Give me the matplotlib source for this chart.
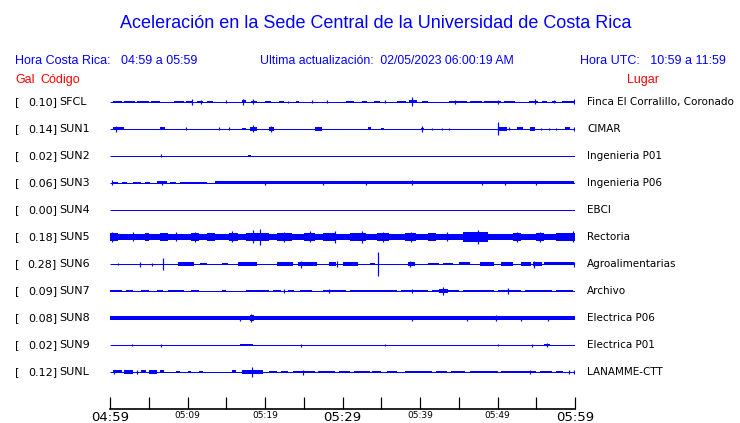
import matplotlib
matplotlib.use('Agg')
import matplotlib.pyplot as plt

W, H = 740, 423

codes = ['SFCL', 'SUN1', 'SUN2', 'SUN3', 'SUN4', 'SUN5',
         'SUN6', 'SUN7', 'SUN8', 'SUN9', 'SUNL']
gal = [0.10, 0.14, 0.02, 0.06, 0.00, 0.18, 0.28, 0.09, 0.08, 0.02, 0.12]
places = ['Finca El Corralillo, Coronado', 'CIMAR', 'Ingenieria P01',
          'Ingenieria P06', 'EBCI', 'Rectoria', 'Agroalimentarias',
          'Archivo', 'Electrica P06', 'Electrica P01', 'LANAMME-CTT']

# half-amplitude of the continuous band (px)
base_amp = [0, 0, 0, 0, 0, 2.8, 0, 0, 1.7, 0, 0]

# bursts (start min, end min, half-amplitude) and spikes (min, half-amplitude)
sfcl_segs = [(0.4, 1.5, 1.3), (1.8, 3.2, 1.3), (3.5, 5.0, 1.3), (5.3, 6.5, 1.2),
             (8.2, 9.5, 1.2), (9.8, 10.7, 1.3), (11.2, 12.0, 1.2), (12.5, 13.3, 1.1),
             (17.0, 17.6, 1.5), (18.2, 19.0, 1.3), (20.0, 20.8, 1.0), (21.8, 22.4, 1.2),
             (24.0, 24.4, 1.0), (30.5, 31.5, 1.0), (32.5, 33.2, 1.1), (34.0, 34.8, 1.1),
             (37.0, 38.2, 1.3), (38.6, 39.6, 1.5), (40.3, 41.0, 1.0), (43.8, 46.0, 1.3),
             (46.5, 48.0, 1.2), (48.2, 50.5, 1.2), (50.8, 52.3, 1.2), (54.0, 55.2, 1.1),
             (55.8, 56.4, 1.0), (57.0, 57.6, 1.0), (58.3, 59.9, 1.1)]
sfcl_spikes = [(10.6, 3.0), (11.8, 1.8), (15.0, 1.5), (17.2, 2.8), (18.4, 2.5),
               (23.0, 1.4), (26.0, 1.5), (28.0, 1.5), (35.5, 1.5), (39.0, 4.5),
               (44.5, 1.8), (50.0, 1.6), (54.8, 2.5), (57.3, 1.5), (59.9, 2.5)]

sun1_segs = [(0.4, 1.8, 1.5), (6.5, 7.1, 1.5), (17.0, 17.6, 1.2), (18.0, 19.0, 2.0),
             (20.5, 21.1, 2.0), (26.5, 27.3, 1.6), (33.3, 33.7, 1.5), (35.0, 35.4, 1.1),
             (40.1, 40.5, 1.2), (50.0, 51.2, 1.9), (52.5, 53.3, 1.5), (54.2, 54.9, 1.6),
             (58.7, 59.4, 1.5)]
sun1_spikes = [(0.8, 3.0), (9.8, 1.5), (14.0, 1.5), (15.3, 1.5), (18.4, 3.5),
               (20.8, 3.0), (40.3, 3.0), (41.6, 1.2), (42.8, 1.2), (43.8, 1.2),
               (50.1, 6.5), (51.5, 1.5), (55.6, 1.2), (56.6, 1.2), (57.5, 1.2), (59.9, 2.0)]

sun2_segs = [(17.8, 18.2, 1.3)]
sun2_spikes = [(6.6, 1.5)]

sun3_segs = [(0.2, 1.0, 1.4), (1.5, 2.2, 1.1), (3.0, 4.0, 1.3), (4.5, 5.2, 1.3),
             (6.0, 7.3, 1.5), (7.8, 8.5, 1.1), (9.0, 12.5, 1.3), (13.6, 59.9, 1.5)]
sun3_spikes = [(0.3, 2.5), (6.7, 2.3), (20.0, 1.8), (27.5, 2.2), (33.0, 1.8),
               (39.0, 2.5), (48.0, 2.2), (51.0, 1.8), (55.0, 1.8)]

sun4_segs = []
sun4_spikes = []

sun5_segs = [(0.0, 1.0, 4.0), (4.5, 5.0, 3.6), (6.5, 7.5, 3.6), (10.5, 11.5, 4.0),
             (12.5, 13.5, 3.6), (15.3, 16.5, 4.2), (17.5, 20.5, 4.2), (21.5, 23.5, 4.0),
             (25.0, 26.5, 4.2), (27.5, 29.0, 4.0), (31.0, 33.0, 4.0), (34.5, 36.0, 4.0),
             (38.0, 39.5, 4.0), (41.0, 42.0, 3.6), (45.5, 48.8, 4.8), (52.0, 53.0, 4.0),
             (55.0, 56.0, 4.0), (57.5, 60.0, 4.0)]
sun5_spikes = [(0.3, 5.0), (3.0, 4.5), (8.5, 4.5), (11.0, 5.0), (15.8, 5.5),
               (18.4, 6.5), (19.3, 8.0), (22.5, 5.0), (25.8, 5.5), (29.0, 6.0),
               (32.5, 6.0), (35.2, 5.0), (38.8, 5.0), (43.5, 4.5), (47.5, 7.0),
               (52.5, 5.0), (55.5, 5.0), (59.8, 5.5)]

sun6_segs = [(8.8, 10.8, 1.7), (11.6, 12.5, 1.3), (14.5, 15.2, 1.3), (16.5, 19.0, 1.7),
             (21.5, 23.6, 1.7), (24.3, 26.7, 1.7), (28.3, 29.2, 1.7), (30.0, 32.0, 1.7),
             (33.5, 34.2, 1.3), (38.5, 39.3, 1.7), (41.0, 42.5, 1.3), (43.0, 44.2, 1.3),
             (45.0, 46.5, 1.5), (47.8, 49.5, 1.7), (50.5, 52.0, 1.7), (53.0, 54.3, 2.0),
             (54.6, 55.8, 2.0), (56.0, 59.9, 1.5)]
sun6_spikes = [(1.0, 1.2), (3.9, 2.5), (5.4, 1.5), (6.9, 6.0), (24.7, 3.5), (29.3, 3.0),
               (34.6, 12.0), (38.7, 3.0), (54.7, 3.5), (59.9, 2.5)]

sun7_segs = [(0.0, 1.5, 1.2), (2.0, 3.0, 1.2), (4.0, 5.0, 1.3), (6.0, 6.8, 1.2),
             (7.5, 9.5, 1.2), (10.5, 11.5, 1.2), (14.5, 15.0, 1.2), (17.5, 20.5, 1.3),
             (21.0, 22.0, 1.2), (23.0, 23.8, 1.2), (24.5, 26.0, 1.3), (27.5, 30.5, 1.3),
             (31.0, 33.5, 1.3), (33.5, 37.0, 1.2), (37.5, 41.0, 1.3), (41.5, 45.0, 1.4),
             (42.5, 43.6, 2.2), (45.5, 49.5, 1.3), (50.0, 53.0, 1.3), (53.5, 57.0, 1.3),
             (57.5, 59.8, 1.3)]
sun7_spikes = [(22.4, 2.0), (28.2, 2.0), (39.0, 2.0), (43.0, 4.0), (51.4, 3.0)]

sun8_segs = [(18.0, 18.6, 2.6)]
sun8_spikes = [(16.8, 2.5), (18.2, 3.8), (39.0, 2.5), (46.0, 2.5), (49.8, 3.0),
               (53.0, 2.5), (56.5, 2.5)]

sun9_segs = [(16.8, 18.5, 1.2), (56.0, 56.8, 1.0)]
sun9_spikes = [(2.8, 1.0), (6.6, 1.5), (24.6, 1.5), (35.5, 1.0), (50.0, 1.0),
               (54.5, 1.5), (56.4, 2.0)]

sunl_segs = [(0.4, 1.5, 1.5), (1.8, 3.0, 1.6), (4.0, 4.6, 1.5), (5.0, 6.0, 1.6),
             (6.5, 7.0, 1.5), (8.5, 9.0, 1.3), (10.0, 10.5, 1.3), (11.5, 12.0, 1.3),
             (15.7, 16.3, 1.5), (17.0, 19.8, 1.6), (20.5, 21.5, 1.3), (22.0, 23.0, 1.2),
             (23.6, 26.5, 1.4), (26.8, 29.0, 1.3), (29.5, 31.0, 1.3), (31.5, 33.5, 1.3),
             (33.8, 35.0, 1.2), (35.8, 37.0, 1.3), (38.0, 41.5, 1.4), (42.0, 43.5, 1.3),
             (44.0, 45.8, 1.2), (46.5, 50.0, 1.4), (50.5, 55.0, 1.4), (55.5, 57.0, 1.3),
             (57.5, 58.5, 1.2)]
sunl_spikes = [(0.5, 2.0), (3.5, 1.8), (18.3, 5.0), (24.9, 2.5), (54.2, 2.0),
               (59.2, 2.0), (59.9, 2.0)]

segments = [sfcl_segs, sun1_segs, sun2_segs, sun3_segs, sun4_segs, sun5_segs,
            sun6_segs, sun7_segs, sun8_segs, sun9_segs, sunl_segs]
spikes = [sfcl_spikes, sun1_spikes, sun2_spikes, sun3_spikes, sun4_spikes, sun5_spikes,
          sun6_spikes, sun7_spikes, sun8_spikes, sun9_spikes, sunl_spikes]

tick_minutes = [0, 5, 10, 15, 20, 25, 30, 35, 40, 45, 50, 55, 60]
major_labels = {0: '04:59', 30: '05:29', 60: '05:59'}
minor_labels = {10: '05:09', 20: '05:19', 40: '05:39', 50: '05:49'}

BLUE = '#0000ff'
RED = '#ff0000'
px = 0.72  # one pixel in points at dpi 100

fig = plt.figure(figsize=(W / 100, H / 100), dpi=100)
fig.patch.set_facecolor('white')


def fx(x):
    return x / W


def fy(y):
    return 1 - y / H


# trace axes: x from 110 to 575 px, y from 409 (bottom) up to 88 px
ax = fig.add_axes([fx(110), fy(409), (575 - 110) / W, (409 - 88) / H])
ax.set_xlim(0, 60)
ax.set_ylim(0, 321)
for s in ['top', 'right', 'left']:
    ax.spines[s].set_visible(False)
ax.spines['bottom'].set_linewidth(1.2)
ax.set_yticks([])

for i in range(len(codes)):
    yc = 409 - (102 + 27 * i)
    ax.plot([0, 60], [yc, yc], color=BLUE, lw=px, solid_capstyle='butt')
    if base_amp[i] > 0:
        ax.fill_between([0, 60], yc - base_amp[i], yc + base_amp[i],
                        color=BLUE, lw=0)
    for t0, t1, a in segments[i]:
        ax.fill_between([t0, t1], yc - a, yc + a, color=BLUE, lw=0)
    for t, a in spikes[i]:
        ax.vlines(t, yc - a, yc + a, color=BLUE, lw=px * 1.2)

    # left label
    fig.text(fx(15), fy(102 + 27 * i), '[', fontsize=8, family='DejaVu Sans',
             va='center', ha='left')
    fig.text(fx(57), fy(102 + 27 * i), '%.2f]' % gal[i], fontsize=8,
             family='DejaVu Sans', va='center', ha='right')
    fig.text(fx(59), fy(102 + 27 * i), codes[i], fontsize=8,
             family='DejaVu Sans', va='center', ha='left')
    # right label
    fig.text(fx(587), fy(102 + 27 * i), places[i], fontsize=7.5,
             family='DejaVu Sans', va='center', ha='left')

ax.set_xticks(tick_minutes)
ax.set_xticklabels([])
ax.tick_params(axis='x', direction='in', length=9 / 0.72 * px, width=px * 1.2,
               colors='black')
for t, lab in major_labels.items():
    ax.text(t, -2, lab, transform=ax.transData, ha='center', va='top',
            fontsize=9.5, family='DejaVu Sans', clip_on=False)
for t, lab in minor_labels.items():
    ax.text(t, -2, lab, transform=ax.transData, ha='center', va='top',
            fontsize=6.5, family='DejaVu Sans', clip_on=False)

# header texts (baseline aligned)
hf = 'Liberation Sans'
fig.text(fx(376), fy(28), 'Aceleración en la Sede Central de la Universidad de Costa Rica',
         color=BLUE, fontsize=13.0, family=hf, ha='center', va='baseline')
fig.text(fx(15), fy(64), 'Hora Costa Rica:   04:59 a 05:59', color=BLUE,
         fontsize=9, family=hf, ha='left', va='baseline')
fig.text(fx(260), fy(64), 'Ultima actualización:  02/05/2023 06:00:19 AM', color=BLUE,
         fontsize=8.8, family=hf, ha='left', va='baseline')
fig.text(fx(580), fy(64), 'Hora UTC:   10:59 a 11:59', color=BLUE,
         fontsize=9, family=hf, ha='left', va='baseline')
fig.text(fx(15), fy(83), 'Gal', color=RED, fontsize=9, family=hf, ha='left', va='baseline')
fig.text(fx(40), fy(83), 'Código', color=RED, fontsize=9, family=hf, ha='left', va='baseline')
fig.text(fx(627), fy(83), 'Lugar', color=RED, fontsize=9, family=hf, ha='left', va='baseline')

fig.savefig('out.png', dpi=100)
